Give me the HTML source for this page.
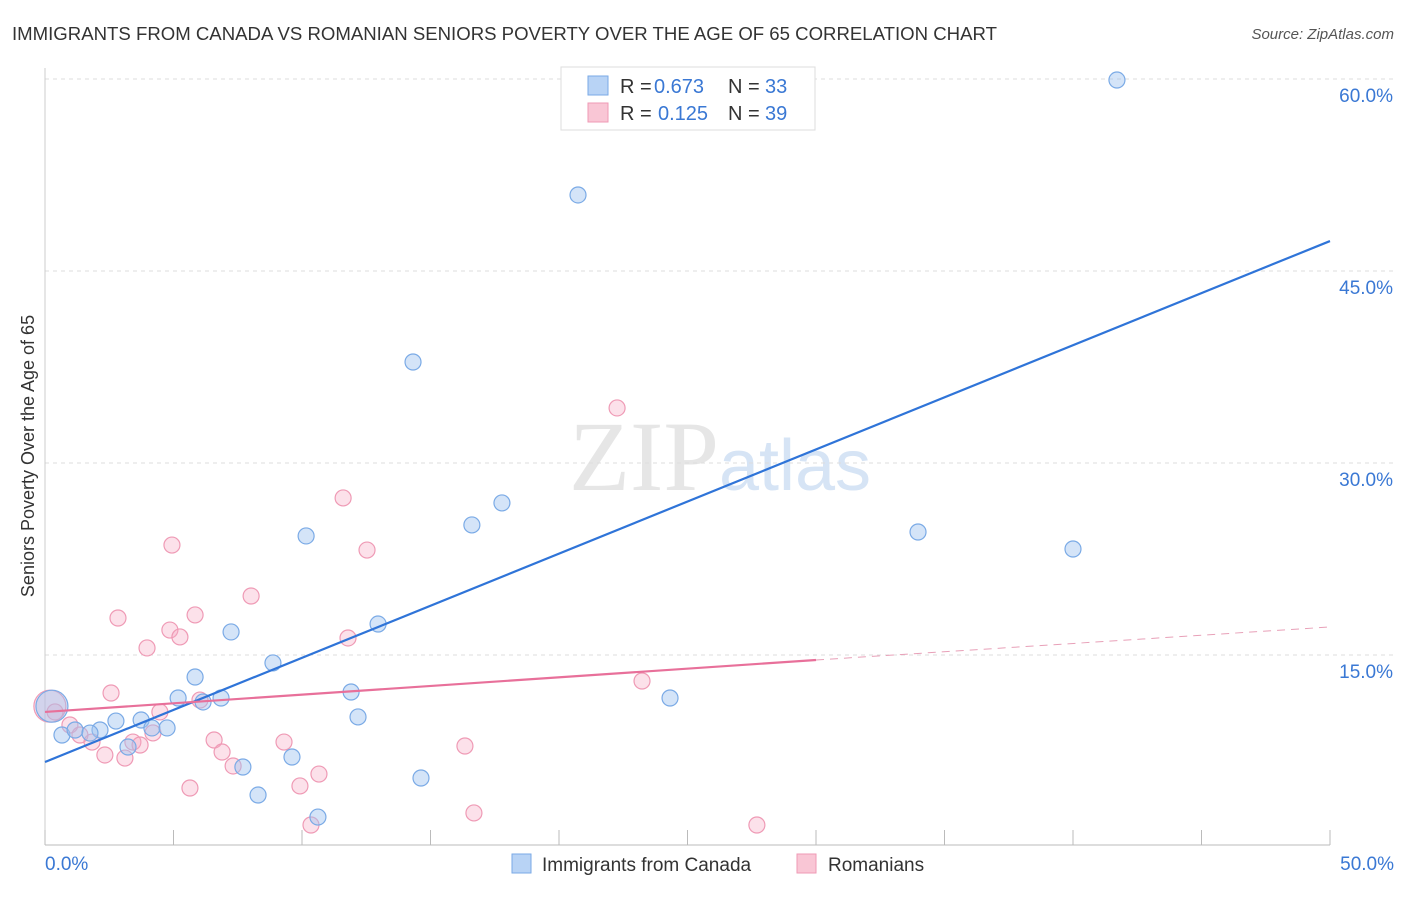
<!DOCTYPE html>
<html><head><meta charset="utf-8"><style>
body{margin:0;background:#fff;font-family:"Liberation Sans",sans-serif}
svg text{font-family:"Liberation Sans",sans-serif}
</style></head><body>
<svg id="c" width="1406" height="892" xmlns="http://www.w3.org/2000/svg">
<text x="12" y="40" font-size="18.6" fill="#333">IMMIGRANTS FROM CANADA VS ROMANIAN SENIORS POVERTY OVER THE AGE OF 65 CORRELATION CHART</text>
<text x="1394" y="39" font-size="15" fill="#555" font-style="italic" text-anchor="end">Source: ZipAtlas.com</text>
<text x="720" y="490" font-size="100" fill="#e6e6e6" text-anchor="middle"><tspan font-family="Liberation Serif">ZIP</tspan><tspan font-family="Liberation Sans" font-size="72" fill="#d6e4f5">atlas</tspan></text>
<text transform="translate(34,456) rotate(-90)" font-size="18" fill="#333" text-anchor="middle">Seniors Poverty Over the Age of 65</text>
<g id="grid"></g><g id="axes"></g><g id="marks"></g>
<g>
<rect x="561" y="67" width="254" height="63" fill="#fff" stroke="#ddd"/>
<rect x="588" y="76" width="20" height="19" fill="#b8d3f5" stroke="#7aaae6"/>
<rect x="588" y="103" width="20" height="19" fill="#f9c6d5" stroke="#ef9ab5"/>
<text x="620" y="93" font-size="20" fill="#333">R =</text>
<text x="654" y="93" font-size="20" fill="#3a78d4">0.673</text>
<text x="728" y="93" font-size="20" fill="#333">N =</text>
<text x="765" y="93" font-size="20" fill="#3a78d4">33</text>
<text x="620" y="120" font-size="20" fill="#333">R =</text>
<text x="658" y="120" font-size="20" fill="#3a78d4">0.125</text>
<text x="728" y="120" font-size="20" fill="#333">N =</text>
<text x="765" y="120" font-size="20" fill="#3a78d4">39</text>
</g>
<g>
<rect x="512" y="854" width="19" height="19" fill="#b8d3f5" stroke="#7aaae6"/>
<text x="542" y="871" font-size="19" fill="#333">Immigrants from Canada</text>
<rect x="797" y="854" width="19" height="19" fill="#f9c6d5" stroke="#ef9ab5"/>
<text x="828" y="871" font-size="19" fill="#333">Romanians</text>
</g>
</svg>
<script>
const blueX=[0.27,0.66,1.17,2.14,2.76,3.23,3.74,4.16,4.75,5.18,5.84,6.15,6.85,7.24,7.70,8.29,8.87,9.61,10.16,10.62,11.91,12.18,12.96,14.32,14.63,16.61,17.78,20.74,24.32,33.97,40.0,41.71,1.75];
const blueY=[11.0,8.75,9.14,9.14,9.84,7.81,9.92,9.30,9.30,11.64,13.28,11.33,11.64,16.80,6.25,4.06,14.38,7.03,24.30,2.34,12.11,10.16,17.42,37.89,5.39,25.16,26.88,50.94,11.64,24.61,23.28,59.92,8.9];
const pinkX=[0.19,0.39,0.97,1.36,1.83,2.33,2.57,2.84,3.11,3.42,3.70,3.97,4.20,4.47,4.86,4.94,5.25,5.64,5.84,6.03,6.58,6.89,7.32,8.02,9.30,9.92,10.35,10.66,11.60,11.79,12.53,16.34,16.69,22.26,23.23,27.70];
const pinkY=[11.0,10.55,9.53,8.75,8.2,7.19,12.03,17.89,6.95,8.2,7.97,15.55,8.91,10.55,16.95,23.59,16.41,4.61,18.13,11.48,8.36,7.42,6.33,19.61,8.2,4.77,1.72,5.70,27.27,16.33,23.20,7.89,2.66,34.30,12.97,1.72];
const yTicks=[15,30,45,60];
const yTickLabels=["15.0%","30.0%","45.0%","60.0%"];
const blueTrend=[[0,6.64],[50,47.34]];
const pinkTrend=[[0,10.55],[30,14.61]];
const pinkTrendDash=[[30,14.61],[50,17.19]];
const X=v=>45+v*25.7, Y=v=>847-v*12.8;
const NS="http://www.w3.org/2000/svg";
function mk(p,t,a){const e=document.createElementNS(NS,t);for(const k in a)e.setAttribute(k,a[k]);p.appendChild(e);return e;}
const grid=document.getElementById('grid'),axes=document.getElementById('axes'),marks=document.getElementById('marks');
yTicks.forEach((t,i)=>{
 const l=mk(grid,'line',{x1:45,x2:1394,y1:Y(t),y2:Y(t),stroke:'#ddd','stroke-dasharray':'4,4'});
 
 
 const tx=mk(axes,'text',{x:1393,y:Y(t)+23,'font-size':19,fill:'#3a78d4','text-anchor':'end'});
 tx.textContent=yTickLabels[i];
 
 
});
const ax=mk(axes,'line',{x1:45,x2:1330,y1:845,y2:845,stroke:'#bbb'});


const ay=mk(axes,'line',{x1:45,x2:45,y1:68,y2:845,stroke:'#ccc'});


for(let v=0;v<=50;v+=5){const t=mk(axes,'line',{x1:X(v),x2:X(v),y1:830,y2:845,stroke:'#bbb'});
 
 }
[[0,"0.0%",'start',45],[50,"50.0%",'end',1394]].forEach(d=>{const t=mk(axes,'text',{x:d[3],y:870,'font-size':19,fill:'#3a78d4','text-anchor':d[2]});t.textContent=d[1];
 
 });
function dots(xs,ys,fill,stroke,name){xs.forEach((x,i)=>{const big=i===0;
 const c=mk(marks,'circle',{cx:X(x),cy:Y(ys[i]),r:big?16:8,fill:fill,stroke:stroke,'stroke-width':1.2});
 
 });}
dots(pinkX,pinkY,'rgba(245,170,195,0.35)','#ef9ab5','romanians-point');
dots(blueX,blueY,'rgba(160,195,240,0.45)','#7aaae6','canada-point');
function line(p,col,dash,name){const l=mk(marks,'line',{x1:X(p[0][0]),y1:Y(p[0][1]),x2:X(p[1][0]),y2:Y(p[1][1]),stroke:col,'stroke-width':dash?1:2.2});
 if(dash)l.setAttribute('stroke-dasharray','8,6');
 
 }
line(blueTrend,'#2f74d8',false,'canada-trendline');
line(pinkTrend,'#e8709a',false,'romanians-trendline');
line(pinkTrendDash,'#e8a0b8',true,'romanians-trendline-extension');
</script>
</body></html>
